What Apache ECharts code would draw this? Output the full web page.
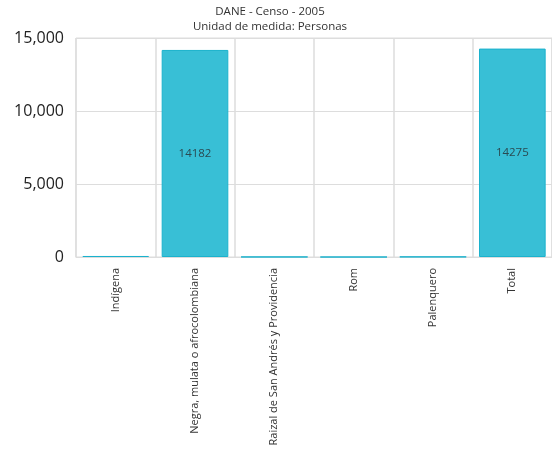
<!DOCTYPE html>
<html><head><meta charset="utf-8">
<script src="https://cdn.jsdelivr.net/npm/echarts@6/dist/echarts.min.js"></script>
<style>html,body{margin:0;padding:0;background:#fff}#c{width:552px;height:467px}</style>
</head><body><div id="c"></div>
<script>
const categories = ["Indígena", "Negra, mulata o afrocolombiana", "Raizal de San Andrés y Providencia", "Rom", "Palenquero", "Total"];
const values = [70, 14182, 8, 0, 15, 14275];
const yTicks = [0, 5000, 10000, 15000];
const titleText = "DANE - Censo - 2005";
const subtitleText = "Unidad de medida: Personas";

const chart = echarts.init(document.getElementById('c'));
const font = "'Open Sans', 'Noto Sans', sans-serif";
chart.setOption({
  animation: false,
  title: {
    text: titleText, subtext: subtitleText, left: 265, textAlign: 'center', top: 1, itemGap: 3,
    textStyle: {fontSize: 11.5, fontWeight: 'normal', color: '#333', fontFamily: font},
    subtextStyle: {fontSize: 11.5, color: '#333', fontFamily: font}
  },
  grid: {left: 76, top: 38, width: 480, height: 219, containLabel: false, show: true, borderColor: '#ddd', borderWidth: 1},
  xAxis: {
    type: 'category', data: categories,
    axisLine: {lineStyle: {color: '#ddd'}},
    axisTick: {show: false},
    splitLine: {show: true, lineStyle: {color: '#ddd', width: 1.5}},
    axisLabel: {rotate: 90, interval: 0, fontSize: 11, color: '#333', fontFamily: font, margin: 11}
  },
  yAxis: {
    type: 'value', min: yTicks[0], max: yTicks[yTicks.length-1], interval: 5000,
    axisLine: {show: false}, axisTick: {show: false},
    splitLine: {lineStyle: {color: '#ddd', width: 1}},
    axisLabel: {fontSize: 16, color: '#222', fontFamily: font, margin: 12,
      formatter: v => v.toLocaleString('en-US')}
  },
  series: [{
    type: 'bar', data: values, barCategoryGap: '16%',
    itemStyle: {color: '#38bfd6', borderColor: '#1bb2cd', borderWidth: 1},
    label: {show: true, position: 'inside', fontSize: 11.5, color: '#2a4a52', fontFamily: font,
      formatter: p => p.value > 1000 ? String(p.value) : ''}
  }]
});
</script></body></html>
